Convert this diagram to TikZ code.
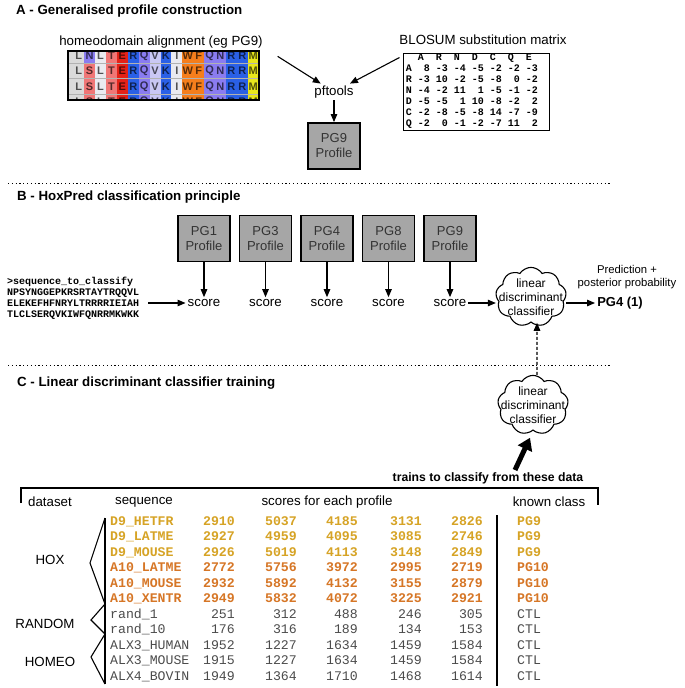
\documentclass[tikz,border=0pt]{standalone}
\usepackage{fontspec}
\setmainfont{Liberation Sans}
\newfontfamily\courfont{Liberation Mono}
\usetikzlibrary{arrows.meta,shapes.symbols}

\definecolor{dgold}{RGB}{214,163,37}
\definecolor{aorange}{RGB}{214,118,38}
\definecolor{ctlgray}{RGB}{75,75,75}
\definecolor{boxgray}{RGB}{166,166,166}
\definecolor{aagray}{RGB}{218,218,218}
\definecolor{aapale}{RGB}{234,234,240}
\definecolor{aapink}{RGB}{240,118,118}
\definecolor{aared}{RGB}{228,34,24}
\definecolor{aablue}{RGB}{42,96,230}
\definecolor{aapurple}{RGB}{138,124,240}
\definecolor{aalav}{RGB}{202,200,244}
\definecolor{aaorange}{RGB}{245,126,28}
\definecolor{aayellow}{RGB}{232,230,28}

\tikzset{
  title/.style={font=\bfseries\fontsize{13.3}{16}\selectfont, anchor=west, inner sep=0pt},
  body/.style={font=\fontsize{13.3}{16}\selectfont, inner sep=2pt},
  small/.style={font=\fontsize{11.3}{12.5}\selectfont, align=center},
  profbox/.style={draw, line width=1.8pt, fill=boxgray, minimum width=52pt, minimum height=46pt,
    inner sep=0pt, align=center, text=black!80, font=\fontsize{13}{15}\selectfont},
  ldacloud/.style={cloud, draw, line width=1.1pt, cloud puffs=9, cloud puff arc=115, aspect=1.3,
    inner xsep=-9pt, inner ysep=-5pt, align=center, font=\fontsize{12}{14}\selectfont},
  aaletter/.style={font=\bfseries\fontsize{11}{11}\selectfont, text=black, text opacity=0.65, inner sep=0pt},
  mono/.style={font=\courfont\bfseries\fontsize{10}{11}\selectfont},
  tabcell/.style={inner sep=0pt, text height=8pt, text depth=2pt},
  tabd/.style={tabcell, font=\courfont\bfseries\fontsize{13.2}{15}\selectfont, text=dgold},
  taba/.style={tabcell, font=\courfont\bfseries\fontsize{13.2}{15}\selectfont, text=aorange},
  tabc/.style={tabcell, font=\courfont\fontsize{13.2}{15}\selectfont, text=ctlgray},
  arr/.style={-{Triangle[length=8pt,width=6.5pt]}, line width=1.1pt},
  dasharr/.style={arr, dash pattern=on 3pt off 2pt},
  fatarr/.style={-{Triangle[length=12pt,width=15pt]}, line width=5pt},
  sepline/.style={line width=1pt, dash pattern=on 1.2pt off 2.6pt}
}

\begin{document}
\begin{tikzpicture}[x=1pt,y=-1pt]
\useasboundingbox (0,0) rectangle (685,688);

% A - profile construction
\node[title] (titA) at (16,11) {A - Generalised profile construction};
\node[body] (alnlab) at (161,42) {homeodomain alignment (eg PG9)};

\begin{scope}
\clip (68,51) rectangle (259,100);
\fill[aagray] (68,51) rectangle (73.3,100);
\foreach \c [count=\k from 0] in {aagray,aapink,aapale,aapink,aared,aablue,aapurple,aalav,aablue,aapale,aaorange,aaorange,aapurple,aapurple,aablue,aablue,aayellow}
  \fill[\c] ({73.3+10.9*\k},51) rectangle ({73.3+10.9*(\k+1)},100);
\fill[aapurple] (84.2,51) rectangle (95.1,63);
\foreach \y in {63,78.5,94}
  \draw[gray!60, line width=0.4pt] (68,\y) -- (259,\y);
\foreach \l [count=\k from 0] in {L,N,L,T,E,R,Q,V,K,I,W,F,Q,N,R,R,M}
  \node[aaletter] (aa0-\k) at ({78.75+10.9*\k},56) {\l};
\foreach \r/\yy in {1/70.8,2/86.3,3/101.5}
  \foreach \l [count=\k from 0] in {L,S,L,T,E,R,Q,V,K,I,W,F,Q,N,R,R,M}
    \node[aaletter] (aa\r-\k) at ({78.75+10.9*\k},\yy) {\l};
\end{scope}
\node[draw, line width=1.3pt, minimum width=191pt, minimum height=49pt, inner sep=0pt] (aln) at (163.5,75.5) {};

\node[body] (matlab) at (483,40) {BLOSUM substitution matrix};
\node[draw, line width=1pt, mono, inner xsep=2pt, inner ysep=0pt] (mat) at (476.5,91.5) {%
\begin{tabular}{@{}l*{7}{@{\hspace{6pt}}r}@{\hspace{9pt}}}
  & A\hphantom{0} & R\hphantom{0} & N\hphantom{0} & D\hphantom{0} & C\hphantom{0} & Q\hphantom{0} & E\hphantom{0}\\
A & 8 & -3 & -4 & -5 & -2 & -2 & -3\\
R & -3 & 10 & -2 & -5 & -8 & 0 & -2\\
N & -4 & -2 & 11 & 1 & -5 & -1 & -2\\
D & -5 & -5 & 1 & 10 & -8 & -2 & 2\\
C & -2 & -8 & -5 & -8 & 14 & -7 & -9\\
Q & -2 & 0 & -1 & -2 & -7 & 11 & 2
\end{tabular}};

\node[body] (pft) at (334,92) {pftools};
\node[profbox] (pg9top) at (334,146) {PG9\\Profile};

\draw[arr] ([xshift=18pt,yshift=-6pt]aln.north east) -- (pft);
\draw[arr] ([xshift=-4pt,yshift=-5pt]mat.north west) -- (pft);
\draw[arr] (pft) -- (pg9top);

\draw[sepline] (8,183) -- (610,183);

% B - classification
\node[title] (titB) at (17,197) {B - HoxPred classification principle};

\node[mono, anchor=west, align=left, inner sep=0pt] (seq) at (7,298.5)
  {>sequence\_to\_classify\\NPSYNGGEPKRSRTAYTRQQVL\\ELEKEFHFNRYLTRRRRIEIAH\\TLCLSERQVKIWFQNRRMKWKK};

\foreach \p/\x [count=\i] in {1/204,3/265.5,4/327,8/388.5,9/450}
{
  \node[profbox] (pg\i) at (\x,238.5) {PG\p\\Profile};
  \node[body] (sc\i) at (\x,303) {score};
  \draw[arr] (pg\i) -- (sc\i);
}

\coordinate (seqout) at (148,303);
\draw[arr] (seqout) -- (sc1.west);

\node[ldacloud] (lda) at (531,297) {linear\\discriminant\\classifier};
\draw[arr] (sc5.east) -- (sc5.east -| lda.west);

\node[small] (predlab) at (627,277) {Prediction +\\posterior probability};
\node[font=\bfseries\fontsize{13}{15}\selectfont, inner sep=2pt] (res) at (620,303) {PG4 (1)};
\draw[arr] (lda.east |- res.west) -- (res.west);

\draw[sepline] (8,365) -- (610,365);

% C - training
\node[title] (titC) at (17,383) {C - Linear discriminant classifier training};

\node[ldacloud] (lda2) at (533,405) {linear\\discriminant\\classifier};
\draw[dasharr] ([xshift=4pt]lda2.north) -- ([xshift=6pt]lda.south);

\node[font=\bfseries\fontsize{12.2}{14}\selectfont, inner sep=1pt] (trn) at (488,478) {trains to classify from these data};
\coordinate (trnup) at (515,470);
\draw[fatarr] (trnup) -- ([shift={(-3pt,-7pt)}]lda2.south);

\draw[line width=1.1pt] (21,503) -- (21,488) -- (598,488) -- (598,505);

\node[body] (hdset) at (50,502) {dataset};
\node[body] (hseq) at (144,502) {sequence};
\node[body] (hscore) at (327,502) {scores for each profile};
\node[body] (hclass) at (549,502) {known class};

\foreach \nm/\a/\b/\c/\d/\e/\cl/\st [count=\i from 0] in {
  D9\_HETFR/2910/5037/4185/3131/2826/PG9/tabd,
  D9\_LATME/2927/4959/4095/3085/2746/PG9/tabd,
  D9\_MOUSE/2926/5019/4113/3148/2849/PG9/tabd,
  A10\_LATME/2772/5756/3972/2995/2719/PG10/taba,
  A10\_MOUSE/2932/5892/4132/3155/2879/PG10/taba,
  A10\_XENTR/2949/5832/4072/3225/2921/PG10/taba,
  rand\_1/251/312/488/246/305/CTL/tabc,
  rand\_10/176/316/189/134/153/CTL/tabc,
  ALX3\_HUMAN/1952/1227/1634/1459/1584/CTL/tabc,
  ALX3\_MOUSE/1915/1227/1634/1459/1584/CTL/tabc,
  ALX4\_BOVIN/1949/1364/1710/1468/1614/CTL/tabc}
{
  \node[\st, anchor=west] (nm\i) at (110,{522+15.5*\i}) {\nm};
  \foreach \v/\xr [count=\j] in {\a/235,\b/297,\c/358,\d/422,\e/483}
    \node[\st, anchor=east] (sc\i-\j) at (\xr,{522+15.5*\i}) {\v};
  \node[\st, anchor=west] (cl\i) at (517,{522+15.5*\i}) {\cl};
}

\draw[line width=2pt] (497,515) -- (497,686);

% dataset brackets
\draw[line width=1.1pt] (105,518) -- (105,684);
\draw[line width=1.1pt] (105,518) -- (90,563) -- (105,604) -- (91,620) -- (105,634) -- (91,657) -- (105,684);
\node[body] (hox) at (50,560) {HOX};
\node[body] (rnd) at (45,624) {RANDOM};
\node[body] (homeo) at (50,662) {HOMEO};
\end{tikzpicture}
\end{document}
